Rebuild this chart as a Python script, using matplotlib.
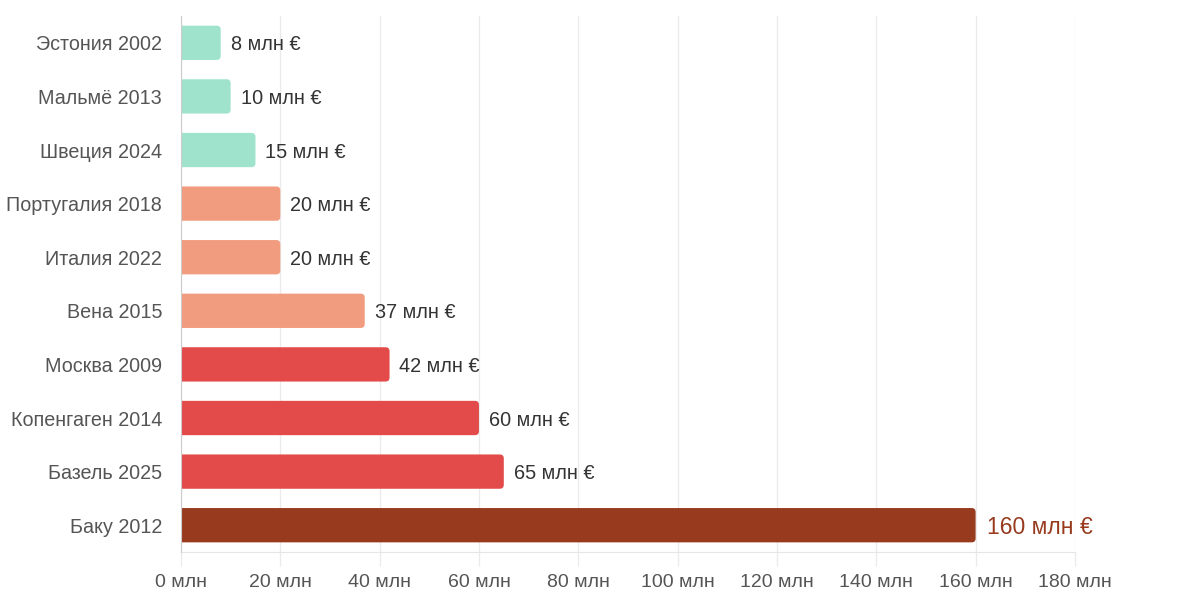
import matplotlib.pyplot as plt
from matplotlib.patches import FancyBboxPatch

plt.rcParams['font.family'] = ['Liberation Sans', 'DejaVu Sans']

# данные
города = ["Эстония 2002", "Мальмё 2013", "Швеция 2024", "Португалия 2018",
          "Италия 2022", "Вена 2015", "Москва 2009", "Копенгаген 2014",
          "Базель 2025", "Баку 2012"]
бюджет = [8, 10, 15, 20, 20, 37, 42, 60, 65, 160]
цвета = ["#a0e3cc", "#a0e3cc", "#a0e3cc", "#f19c7e", "#f19c7e", "#f19c7e",
         "#e34a4a", "#e34a4a", "#e34a4a", "#983a1e"]
метки_x = [0, 20, 40, 60, 80, 100, 120, 140, 160, 180]

fig = plt.figure(figsize=(12, 6), dpi=100)
ax = fig.add_axes([0.1508, 0.08, 0.745, 0.8933])

n = len(города)
ax.set_xlim(0, 180)
ax.set_ylim(n - 0.5, -0.5)

# соотношение масштабов по осям для скругления углов
bbox = ax.get_position()
px_x = bbox.width * 1200 / 180
px_y = bbox.height * 600 / n
аспект = px_x / px_y

h = 0.64
r = 4 / px_x
for i, (v, c) in enumerate(zip(бюджет, цвета)):
    p = FancyBboxPatch((-3, i - h / 2), v + 3, h,
                       boxstyle=f"round,pad=0,rounding_size={r}",
                       mutation_aspect=аспект,
                       fc=c, ec="none", zorder=3, clip_on=True)
    ax.add_patch(p)
    if i == n - 1:
        ax.text(v + 2.2, i, f"{v} млн €", va="center_baseline", ha="left",
                fontsize=16.5, color="#983a1e", zorder=4)
    else:
        ax.text(v + 2, i, f"{v} млн €", va="center_baseline", ha="left",
                fontsize=14.3, color="#333333", zorder=4)

ax.set_yticks(range(n))
ax.set_yticklabels(города, fontsize=14.2, color="#555555")
ax.set_xticks(метки_x)
ax.set_xticklabels([f"{t} млн" for t in метки_x], fontsize=14, color="#555555")

ax.tick_params(axis="y", length=0, pad=13.5)
ax.tick_params(axis="x", length=10, color="#ebebeb", width=1, pad=5.5)

ax.grid(axis="x", color="#ebebeb", linewidth=1, zorder=0)
for s in ["top", "right"]:
    ax.spines[s].set_visible(False)
ax.spines["left"].set_color("#cccccc")
ax.spines["left"].set_zorder(5)
ax.spines["bottom"].set_color("#e6e6e6")

fig.savefig("out.png", dpi=100)
